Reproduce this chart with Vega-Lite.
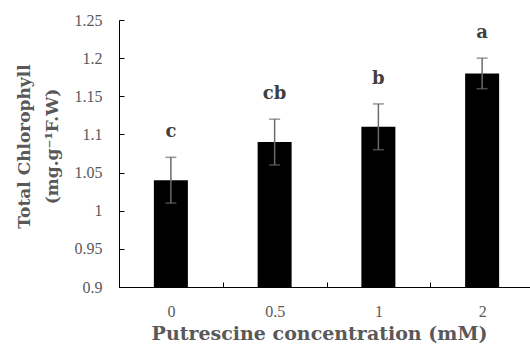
{
  "$schema": "https://vega.github.io/schema/vega-lite/v6.json",
  "autosize": {"type": "none"},
  "width": 415,
  "height": 267,
  "padding": {"left": 119, "top": 20, "right": 0, "bottom": 69},
  "background": "white",
  "config": {
    "view": {"stroke": null},
    "axisY": {
      "format": ".2~f",
      "labelOverlap": false,
      "titleFont": "DejaVu Serif",
      "titleFontSize": 17,
      "titleFontWeight": "bold",
      "titleColor": "#595959",
      "titleLineHeight": 28,
      "titleAngle": -90,
      "titleAlign": "center",
      "titleBaseline": "middle",
      "titleX": -95,
      "titleY": 126,
      "labelFont": "Liberation Serif",
      "labelFontSize": 16,
      "labelColor": "#595959",
      "labelPadding": 22,
      "tickSize": -5,
      "tickColor": "black",
      "domainColor": "black",
      "grid": false,
      "zindex": 1
    }
  },
  "data": {
    "values": [
      {"conc": "0", "value": 1.04, "lo": 1.01, "hi": 1.07, "label": "c"},
      {"conc": "0.5", "value": 1.09, "lo": 1.06, "hi": 1.12, "label": "cb"},
      {"conc": "1", "value": 1.11, "lo": 1.08, "hi": 1.14, "label": "b"},
      {"conc": "2", "value": 1.18, "lo": 1.16, "hi": 1.20, "label": "a"}
    ]
  },
  "encoding": {
    "x": {
      "field": "conc",
      "type": "nominal",
      "sort": null,
      "scale": {"padding": 0},
      "axis": {
        "title": "Putrescine concentration (mM)",
        "titleFont": "DejaVu Serif",
        "titleFontSize": 19,
        "titleFontWeight": "bold",
        "titleColor": "#595959",
        "titlePadding": 5,
        "titleX": 200,
        "labelAngle": 0,
        "labelFont": "Liberation Serif",
        "labelFontSize": 16,
        "labelColor": "#595959",
        "labelPadding": 21,
        "tickBand": "extent",
        "tickSize": -5,
        "tickColor": "black",
        "domainColor": "black",
        "grid": false,
        "zindex": 1
      }
    }
  },
  "layer": [
    {
      "mark": {"type": "bar", "color": "black", "size": 34},
      "encoding": {
        "y": {
          "field": "value",
          "type": "quantitative",
          "scale": {"domain": [0.9, 1.25], "zero": false, "nice": false},
          "axis": {"values": [0.9, 0.95, 1, 1.05, 1.1, 1.15, 1.2, 1.25], "title": ["Total Chlorophyll", "(mg.g⁻¹F.W)"]}
        },
        "y2": {"datum": 0.9}
      }
    },
    {
      "mark": {"type": "rule", "color": "#6b6b6b", "strokeWidth": 1.5},
      "encoding": {
        "y": {"field": "lo", "type": "quantitative", "axis": {"values": [0.9, 0.95, 1, 1.05, 1.1, 1.15, 1.2, 1.25], "title": ["Total Chlorophyll", "(mg.g⁻¹F.W)"]}},
        "y2": {"field": "hi"}
      }
    },
    {
      "mark": {"type": "tick", "color": "#6b6b6b", "size": 11, "thickness": 1.5},
      "encoding": {"y": {"field": "lo", "type": "quantitative", "axis": {"values": [0.9, 0.95, 1, 1.05, 1.1, 1.15, 1.2, 1.25], "title": ["Total Chlorophyll", "(mg.g⁻¹F.W)"]}}}
    },
    {
      "mark": {"type": "tick", "color": "#6b6b6b", "size": 11, "thickness": 1.5},
      "encoding": {"y": {"field": "hi", "type": "quantitative", "axis": {"values": [0.9, 0.95, 1, 1.05, 1.1, 1.15, 1.2, 1.25], "title": ["Total Chlorophyll", "(mg.g⁻¹F.W)"]}}}
    },
    {
      "mark": {"type": "text", "font": "DejaVu Serif", "fontSize": 18, "fontWeight": "bold", "color": "#404040", "baseline": "alphabetic", "dy": -20},
      "encoding": {
        "y": {"field": "hi", "type": "quantitative", "axis": {"values": [0.9, 0.95, 1, 1.05, 1.1, 1.15, 1.2, 1.25], "title": ["Total Chlorophyll", "(mg.g⁻¹F.W)"]}},
        "text": {"field": "label"}
      }
    }
  ]
}
